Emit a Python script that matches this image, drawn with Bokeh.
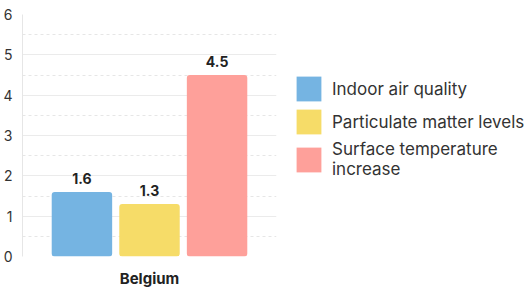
from bokeh.plotting import figure
from bokeh.models import ColumnDataSource, FactorRange, Range1d, Legend, LegendItem, FixedTicker, LabelSet
from bokeh.core.properties import value
from bokeh.transform import dodge
from bokeh.embed import file_html
from bokeh.resources import INLINE

categories = ["Belgium"]
series = ["Indoor air quality", "Particulate matter levels", "Surface temperature\nincrease"]
values = [1.6, 1.3, 4.5]
colors = ["#75b4e2", "#f6dc68", "#fea09a"]
offsets = [-0.266, 0.0, 0.266]
y_ticks = [0, 1, 2, 3, 4, 5, 6]

FONT = "Inter"

p = figure(x_range=FactorRange(*categories, range_padding=0), y_range=Range1d(0, 6),
           width=510, height=289, frame_width=254, frame_height=242,
           min_border_left=14, min_border_right=242, min_border_top=14, min_border_bottom=33,
           output_backend="svg", toolbar_location=None, outline_line_color=None)

items = []
for i, (name, v, c, off) in enumerate(zip(series, values, colors, offsets)):
    src = ColumnDataSource(dict(x=categories, y=[v], lbl=[f"{v:.1f}"]))
    r = p.vbar(x=dodge("x", off, range=p.x_range), top="y", width=0.238, source=src,
               fill_color=c, line_color=None, border_radius=3)
    lab = LabelSet(x=dodge("x", off, range=p.x_range), y="y", text="lbl", source=src,
                   text_align="center", text_baseline="bottom", y_offset=8,
                   text_font=value(FONT), text_font_style="bold", text_font_size="14px",
                   text_color="#222222")
    p.add_layout(lab)
    items.append(LegendItem(label=name, renderers=[r]))

legend = Legend(items=items, location=(17, 77), orientation="vertical",
                glyph_width=31, glyph_height=31, label_text_font=FONT, label_text_font_size="17px",
                label_text_line_height=0.9,
                label_text_color="#333333", spacing=2, padding=0, margin=0, label_standoff=8,
                border_line_color=None, background_fill_alpha=0)
p.add_layout(legend, "right")

p.yaxis.ticker = FixedTicker(ticks=y_ticks, minor_ticks=[0.5, 1.5, 2.5, 3.5, 4.5, 5.5])
p.yaxis.major_tick_line_color = None
p.yaxis.minor_tick_line_color = None
p.yaxis.axis_line_color = "#e6e6e6"
p.yaxis.major_label_text_font = FONT
p.yaxis.major_label_text_font_size = "14px"
p.yaxis.major_label_text_color = "#333333"
p.yaxis.major_label_standoff = 4

p.xaxis.axis_line_color = None
p.xaxis.major_tick_line_color = None
p.xaxis.major_label_text_font = FONT
p.xaxis.major_label_text_font_style = "bold"
p.xaxis.major_label_text_font_size = "15px"
p.xaxis.major_label_text_color = "#222222"
p.xaxis.major_label_standoff = 6

p.xgrid.grid_line_color = None
p.ygrid.grid_line_color = "#ebebeb"
p.ygrid.minor_grid_line_color = "#e6e6e6"
p.ygrid.minor_grid_line_dash = "3 3"

open("out.html", "w").write(file_html(p, INLINE))
